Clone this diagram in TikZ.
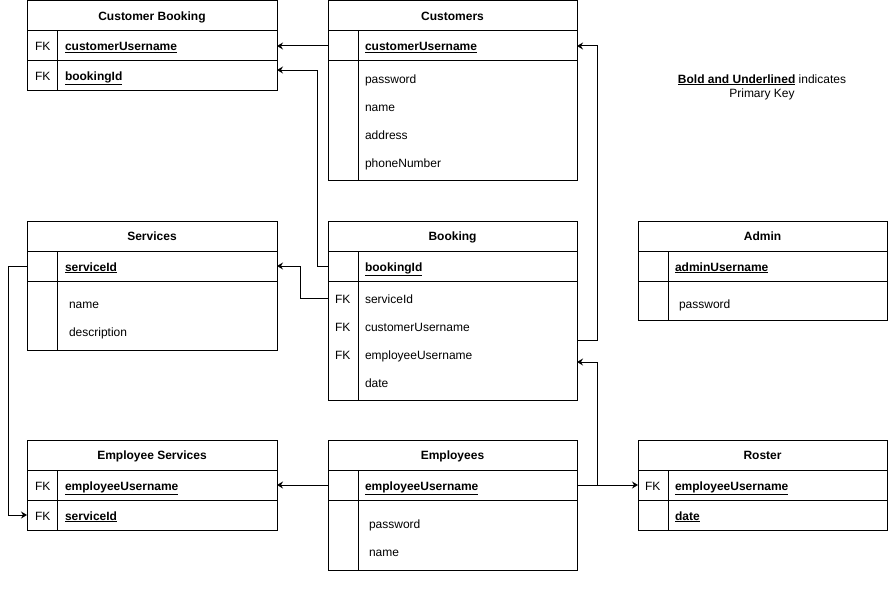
\documentclass[tikz,border=0pt]{standalone}
\usepackage{fontspec}
\setmainfont{Liberation Sans}
\usetikzlibrary{arrows.meta}
\begin{document}
\begin{tikzpicture}[x=1pt,y=-1pt,
  every node/.style={inner sep=0pt, outer sep=0pt, font=\fontsize{12}{14}\selectfont},
  hdr/.style={draw, line width=1pt, anchor=north west, minimum height=30pt,
    text height=8.6pt, text depth=0pt, font=\fontsize{12}{14}\selectfont\bfseries},
  rowbox/.style={draw, line width=1pt, anchor=north west},
  slot/.style={anchor=west, minimum height=28pt},
  lbl/.style={anchor=base west},
  pk/.style={anchor=base west, font=\fontsize{12}{14}\selectfont\bfseries},
  divider/.style={line width=1pt},
  fk/.style={line width=1pt, -{Stealth[length=6pt,width=7pt,inset=2pt]}},
]
\useasboundingbox (0,0) rectangle (888,602);

% ---------- Customer Booking ----------
\node[hdr, minimum width=250pt] (cb-h) at (27,1) {Customer Booking};
\node[rowbox, minimum width=250pt, minimum height=30pt] (cb-user) at (27,31) {};
\node[rowbox, minimum width=250pt, minimum height=29pt] (cb-bid) at (27,61) {};
\draw[divider] (57,31) -- (57,90);
\node[lbl] at (35,51) {FK};
\node[lbl] at (35,80.5) {FK};
\node[pk] at (65,51) {\underline{customerUsername}};
\node[pk] at (65,80.5) {\underline{bookingId}};

% ---------- Customers ----------
\node[hdr, minimum width=249pt] (cus-h) at (328,1) {Customers};
\node[rowbox, minimum width=249pt, minimum height=30pt] (cus-user) at (328,31) {};
\node[rowbox, minimum width=249pt, minimum height=119pt] (cus-body) at (328,61) {};
\draw[divider] (358,31) -- (358,180);
\node[pk] at (365,51) {\underline{customerUsername}};
\node[lbl] at (365,83) {password};
\node[lbl] at (365,111) {name};
\node[lbl] at (365,139) {address};
\node[lbl] at (365,167) {phoneNumber};

% ---------- Legend ----------
\node[anchor=base] (legend1) at (762,83) {\textbf{\underline{Bold and Underlined}} indicates};
\node[anchor=base] (legend2) at (762,97) {Primary Key};

% ---------- Services ----------
\node[hdr, minimum width=250pt] (svc-h) at (27,221) {Services};
\node[rowbox, minimum width=250pt, minimum height=30pt] (svc-id) at (27,251) {};
\node[rowbox, minimum width=250pt, minimum height=69pt] (svc-body) at (27,281) {};
\draw[divider] (57,251) -- (57,350);
\node[pk] at (65,271) {\underline{serviceId}};
\node[lbl] at (69,308) {name};
\node[lbl] at (69,336) {description};

% ---------- Booking ----------
\node[hdr, minimum width=249pt] (bk-h) at (328,221) {Booking};
\node[rowbox, minimum width=249pt, minimum height=30pt] (bk-bid) at (328,251) {};
\node[rowbox, minimum width=249pt, minimum height=119pt] (bk-body) at (328,281) {};
\draw[divider] (358,251) -- (358,400);
\node[slot, minimum width=249pt] (bk-svc) at (328,298) {};
\node[slot, minimum width=249pt] (bk-cus) at (328,326) {};
\node[slot, minimum width=249pt] (bk-emp) at (328,354) {};
\node[pk] at (365,271) {\underline{bookingId}};
\node[lbl] at (335,303) {FK};
\node[lbl] at (335,331) {FK};
\node[lbl] at (335,359) {FK};
\node[lbl] at (365,303) {serviceId};
\node[lbl] at (365,331) {customerUsername};
\node[lbl] at (365,359) {employeeUsername};
\node[lbl] at (365,387) {date};

% ---------- Admin ----------
\node[hdr, minimum width=249pt] (adm-h) at (638,221) {Admin};
\node[rowbox, minimum width=249pt, minimum height=30pt] (adm-user) at (638,251) {};
\node[rowbox, minimum width=249pt, minimum height=39pt] (adm-body) at (638,281) {};
\draw[divider] (668,251) -- (668,320);
\node[pk] at (675,271) {\underline{adminUsername}};
\node[lbl] at (679,308) {password};

% ---------- Employee Services ----------
\node[hdr, minimum width=250pt] (es-h) at (27,440) {Employee Services};
\node[rowbox, minimum width=250pt, minimum height=30pt] (es-user) at (27,470) {};
\node[rowbox, minimum width=250pt, minimum height=30pt] (es-svc) at (27,500) {};
\draw[divider] (57,470) -- (57,530);
\node[lbl] at (35,490) {FK};
\node[lbl] at (35,520) {FK};
\node[pk] at (65,490) {\underline{employeeUsername}};
\node[pk] at (65,520) {\underline{serviceId}};

% ---------- Employees ----------
\node[hdr, minimum width=249pt] (emp-h) at (328,440) {Employees};
\node[rowbox, minimum width=249pt, minimum height=30pt] (emp-user) at (328,470) {};
\node[rowbox, minimum width=249pt, minimum height=70pt] (emp-body) at (328,500) {};
\draw[divider] (358,470) -- (358,570);
\node[pk] at (365,490) {\underline{employeeUsername}};
\node[lbl] at (369,528) {password};
\node[lbl] at (369,556) {name};

% ---------- Roster ----------
\node[hdr, minimum width=249pt] (ro-h) at (638,440) {Roster};
\node[rowbox, minimum width=249pt, minimum height=30pt] (ro-user) at (638,470) {};
\node[rowbox, minimum width=249pt, minimum height=30pt] (ro-date) at (638,500) {};
\draw[divider] (668,470) -- (668,530);
\node[lbl] at (645,490) {FK};
\node[pk] at (675,490) {\underline{employeeUsername}};
\node[pk] at (675,520) {\underline{date}};

% ---------- Relationships ----------
\draw[fk] (cus-user.west) -- (cb-user.east);
\draw[fk] (bk-bid.west) -- ++(-11,0) |- ([yshift=5.5pt]cb-bid.east);
\draw[fk] (bk-svc.west) -- ++(-28,0) |- (svc-id.east);
\draw[fk] (bk-cus.south east) -- ++(20,0) |- (cus-user.east);
\draw[fk] (emp-user.east) -- (ro-user.west);
\draw[fk] (emp-user.east) -- ++(20,0) |- ([yshift=-8pt]bk-emp.east);
\draw[fk] (emp-user.west) -- (es-user.east);
\draw[fk] (svc-id.west) -- ++(-19,0) |- (es-svc.west);
\end{tikzpicture}
\end{document}
